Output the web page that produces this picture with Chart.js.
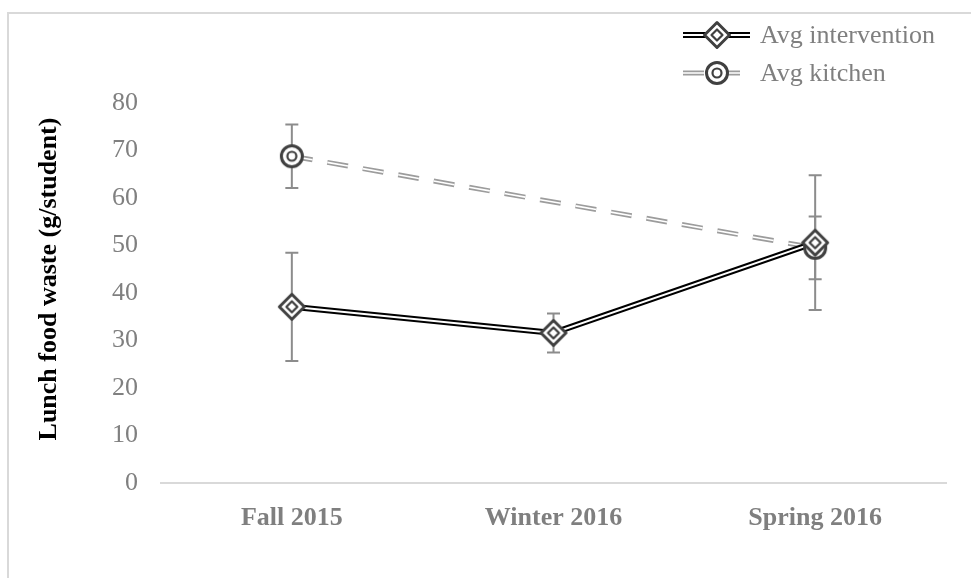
<!DOCTYPE html>
<html>
<head>
<meta charset="utf-8">
<script src="https://cdn.jsdelivr.net/npm/chart.js@4.4.1/dist/chart.umd.min.js"></script>
<style>
  html, body { margin: 0; padding: 0; background: #fff; }
  #wrap { position: relative; width: 971px; height: 578px; overflow: hidden; }
  #frame { position: absolute; left: 7px; top: 12px; width: 1000px; height: 600px;
           border-left: 2px solid #d9d9d9; border-top: 2px solid #d9d9d9; }
  canvas { position: absolute; left: 0; top: 0; }
</style>
</head>
<body>
<div id="wrap">
  <div id="frame"></div>
  <canvas id="wasteChart" width="971" height="578"></canvas>
</div>
<script>
// Data
const categories = ['Fall 2015', 'Winter 2016', 'Spring 2016'];
const interventionAvg = [37.1, 31.6, 50.6];
const interventionErr = [11.4, 4.1, 14.2];
const kitchenAvg = [68.8, null, 49.5];
const kitchenErr = [6.7, null, 6.6];
const yMin = 0, yMax = 80, yStep = 10;
const seriesNames = ['Avg intervention', 'Avg kitchen'];

const serif = "'Liberation Serif', 'Times New Roman', serif";

// Marker images (double outline, like Excel's compound border)
function makeMarker(shape) {
    const c = document.createElement('canvas');
    c.width = 32; c.height = 32;
    const g = c.getContext('2d');
    const path = (r) => {
        g.beginPath();
        if (shape === 'diamond') {
            g.moveTo(16, 16 - r); g.lineTo(16 + r, 16);
            g.lineTo(16, 16 + r); g.lineTo(16 - r, 16); g.closePath();
        } else {
            g.arc(16, 16, r, 0, Math.PI * 2);
        }
    };
    g.fillStyle = '#fff';
    g.strokeStyle = '#404040';
    g.lineJoin = 'round';
    path(shape === 'diamond' ? 12.5 : 10.5); g.fill(); g.lineWidth = 3; g.stroke();
    path(shape === 'diamond' ? 5.5 : 4.5); g.lineWidth = 2.2; g.stroke();
    return c;
}
const diamond = makeMarker('diamond');
const ring = makeMarker('circle');

const kitchenLine = { color: '#9c9c9c', outer: 5, inner: 1.6, dash: [21, 15] };
const interventionLine = { color: '#000', outer: 6, inner: 2, dash: [] };

// Error bars
const errorBars = {
    id: 'errorBars',
    beforeDatasetsDraw(chart) {
        const { ctx, scales: { x, y } } = chart;
        ctx.save();
        ctx.strokeStyle = '#8c8c8c';
        ctx.lineWidth = 2;
        [[kitchenAvg, kitchenErr], [interventionAvg, interventionErr]].forEach(([vals, errs]) => {
            vals.forEach((v, i) => {
                if (v == null || errs[i] == null) return;
                const px = x.getPixelForValue(i);
                const top = y.getPixelForValue(v + errs[i]);
                const bot = y.getPixelForValue(v - errs[i]);
                ctx.beginPath();
                ctx.moveTo(px, top); ctx.lineTo(px, bot);
                ctx.moveTo(px - 6.5, top); ctx.lineTo(px + 6.5, top);
                ctx.moveTo(px - 6.5, bot); ctx.lineTo(px + 6.5, bot);
                ctx.stroke();
            });
        });
        ctx.restore();
    }
};

// Legend and rotated axis title
const extras = {
    id: 'extras',
    afterDraw(chart) {
        const ctx = chart.ctx;
        ctx.save();
        const rows = [
            { y: 35, style: interventionLine, marker: diamond, label: seriesNames[0] },
            { y: 73, style: kitchenLine, marker: ring, label: seriesNames[1] }
        ];
        rows.forEach(r => {
            ctx.setLineDash(r.style.dash);
            ctx.beginPath(); ctx.moveTo(683, r.y); ctx.lineTo(750, r.y);
            ctx.strokeStyle = r.style.color; ctx.lineWidth = r.style.outer; ctx.stroke();
            ctx.beginPath(); ctx.moveTo(683, r.y); ctx.lineTo(750, r.y);
            ctx.strokeStyle = '#fff'; ctx.lineWidth = r.style.inner; ctx.stroke();
            ctx.setLineDash([]);
            ctx.drawImage(r.marker, 717 - 16, r.y - 16);
            ctx.fillStyle = '#7f7f7f';
            ctx.font = '26px ' + serif;
            ctx.textAlign = 'left';
            ctx.textBaseline = 'middle';
            ctx.fillText(r.label, 760, r.y + 1);
        });
        ctx.translate(49, 279);
        ctx.rotate(-Math.PI / 2);
        ctx.fillStyle = '#000';
        ctx.font = 'bold 26px ' + serif;
        ctx.textAlign = 'center';
        ctx.textBaseline = 'middle';
        ctx.fillText('Lunch food waste (g/student)', 0, 0);
        ctx.restore();
    }
};

function lineSet(data, style, white, order) {
    return {
        data: data,
        borderColor: white ? '#fff' : style.color,
        borderWidth: white ? style.inner : style.outer,
        borderDash: style.dash,
        borderCapStyle: 'butt',
        pointRadius: 0,
        spanGaps: true,
        tension: 0,
        fill: false,
        order: order
    };
}

function pointSet(data, marker, order) {
    return {
        data: data,
        showLine: false,
        pointStyle: marker,
        pointRadius: 13,
        order: order
    };
}

const ctx = document.getElementById('wasteChart').getContext('2d');
new Chart(ctx, {
    type: 'line',
    data: {
        labels: categories,
        datasets: [
            lineSet(kitchenAvg, kitchenLine, false, 6),
            lineSet(kitchenAvg, kitchenLine, true, 5),
            lineSet(interventionAvg, interventionLine, false, 4),
            lineSet(interventionAvg, interventionLine, true, 3),
            pointSet(kitchenAvg, ring, 2),
            pointSet(interventionAvg, diamond, 1)
        ]
    },
    options: {
        responsive: false,
        animation: false,
        layout: { padding: { top: 103, right: 25, left: 0, bottom: 0 } },
        plugins: {
            legend: { display: false },
            tooltip: { enabled: false }
        },
        scales: {
            x: {
                offset: true,
                grid: { display: false, drawTicks: false },
                border: { display: true, color: '#d9d9d9', width: 2 },
                ticks: {
                    color: '#7f7f7f',
                    padding: 20,
                    font: { family: serif, size: 26, weight: 'bold' }
                },
                afterFit(scale) { scale.height = 578 - 483; }
            },
            y: {
                min: yMin,
                max: yMax,
                grid: { display: false, drawTicks: false },
                border: { display: false },
                ticks: {
                    stepSize: yStep,
                    color: '#808080',
                    padding: 23,
                    font: { family: serif, size: 26 }
                },
                afterFit(scale) { scale.width = 161; }
            }
        }
    },
    plugins: [errorBars, extras]
});
</script>
</body>
</html>
